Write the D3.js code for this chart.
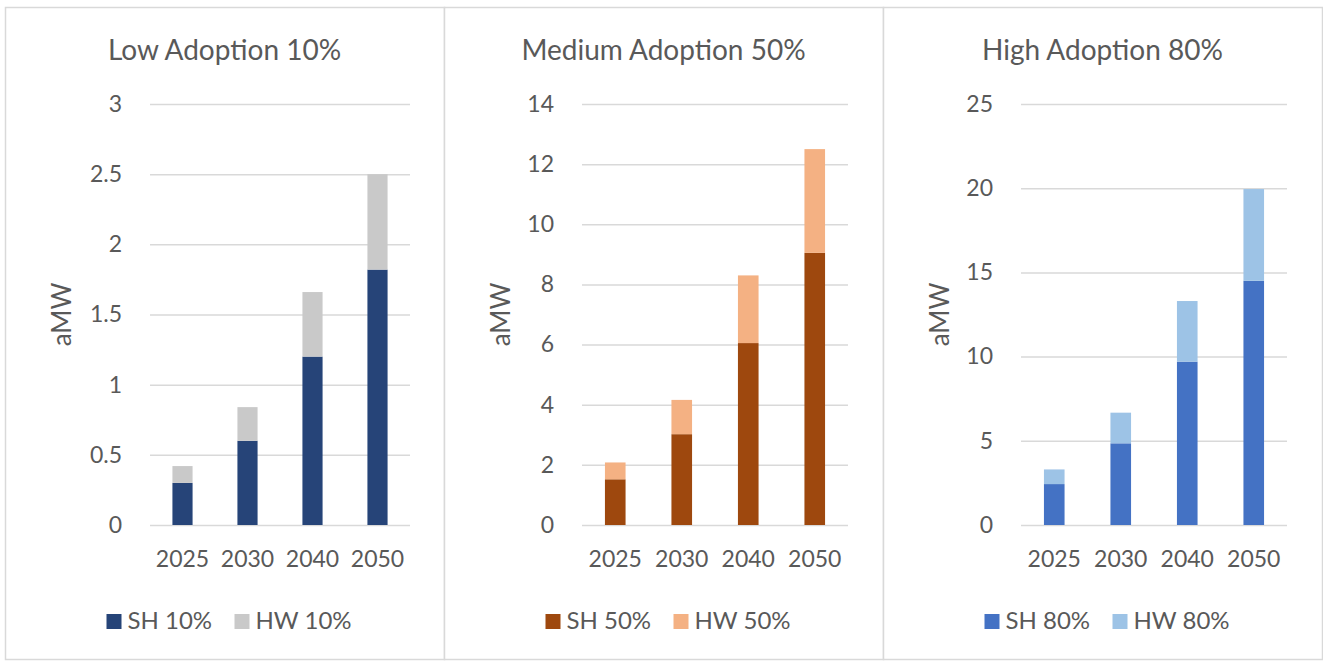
<!DOCTYPE html>
<html>
<head>
<meta charset="utf-8">
<script src="https://cdn.jsdelivr.net/npm/d3@7"></script>
<style>
  body { margin: 0; background: #fff; }
  svg text { font-family: Lato, "Open Sans", sans-serif; fill: #595959; }
</style>
</head>
<body>
<div id="chart"></div>
<script>
// categories and values
const years = ["2025", "2030", "2040", "2050"];

const titles = ["Low Adoption 10%", "Medium Adoption 50%", "High Adoption 80%"];
const shNames = ["SH 10%", "SH 50%", "SH 80%"];
const hwNames = ["HW 10%", "HW 50%", "HW 80%"];

const shLow = [0.3, 0.6, 1.2, 1.82];
const hwLow = [0.12, 0.24, 0.46, 0.68];
const shMed = [1.52, 3.02, 6.05, 9.05];
const hwMed = [0.56, 1.14, 2.25, 3.45];
const shHigh = [2.43, 4.85, 9.7, 14.5];
const hwHigh = [0.87, 1.82, 3.6, 5.45];

const ticksLow = [0, 0.5, 1, 1.5, 2, 2.5, 3];
const ticksMed = [0, 2, 4, 6, 8, 10, 12, 14];
const ticksHigh = [0, 5, 10, 15, 20, 25];

const shColors = ["#264478", "#9E480E", "#4472C4"];
const hwColors = ["#C9C9C9", "#F4B183", "#9DC3E6"];

const panels = [
  {sh: shLow, hw: hwLow, ticks: ticksLow},
  {sh: shMed, hw: hwMed, ticks: ticksMed},
  {sh: shHigh, hw: hwHigh, ticks: ticksHigh}
];

const W = 1323, H = 662;
const panelX = [5, 444, 883], panelW = 439;
const plotLeft = [150, 582, 1021], plotRight = [410, 848, 1287];
const plotTop = 104, plotBottom = 525;

const svg = d3.select("#chart").append("svg")
    .attr("width", W)
    .attr("height", H);

panels.forEach((p, i) => {
  const g = svg.append("g");
  const cx = panelX[i] + panelW / 2;

  // panel border
  g.append("rect")
      .attr("x", panelX[i] + 0.5)
      .attr("y", 7.5)
      .attr("width", panelW)
      .attr("height", 652)
      .attr("fill", "#fff")
      .attr("stroke", "#d9d9d9")
      .attr("stroke-width", 1.5);

  // title
  g.append("text")
      .attr("x", cx)
      .attr("y", 60)
      .attr("text-anchor", "middle")
      .style("font-size", "28px")
      .text(titles[i]);

  const x = d3.scaleBand()
      .domain(years)
      .range([plotLeft[i], plotRight[i]])
      .paddingInner(0.69)
      .paddingOuter(0.345);

  const y = d3.scaleLinear()
      .domain([0, d3.max(p.ticks)])
      .range([plotBottom, plotTop]);

  // gridlines + y labels
  const yAxis = g.append("g")
      .attr("transform", `translate(${plotLeft[i]},0)`)
      .call(d3.axisLeft(y)
        .tickValues(p.ticks)
        .tickSize(-(plotRight[i] - plotLeft[i]))
        .tickPadding(28)
        .tickFormat(d3.format("")));
  yAxis.select(".domain").remove();
  yAxis.selectAll(".tick line")
      .attr("stroke", "#d9d9d9")
      .attr("stroke-width", 1.5);
  yAxis.selectAll(".tick text")
      .style("font-size", "23px")
      .style("font-family", "Lato, sans-serif")
      .attr("fill", "#595959");

  // stacked bars
  const rows = years.map((yr, j) => ({year: yr, sh: p.sh[j], hw: p.hw[j]}));
  const stack = d3.stack().keys(["sh", "hw"])(rows);
  const colors = [shColors[i], hwColors[i]];

  g.selectAll(".layer")
    .data(stack)
    .join("g")
      .attr("fill", (d, k) => colors[k])
    .selectAll("rect")
    .data(d => d)
    .join("rect")
      .attr("x", d => x(d.data.year))
      .attr("y", d => y(d[1]))
      .attr("width", x.bandwidth())
      .attr("height", d => y(d[0]) - y(d[1]));

  // x labels
  const xAxis = g.append("g")
      .attr("transform", `translate(0,${plotBottom})`)
      .call(d3.axisBottom(x).tickSize(0).tickPadding(26));
  xAxis.select(".domain").remove();
  xAxis.selectAll(".tick text")
      .style("font-size", "23px")
      .style("font-family", "Lato, sans-serif")
      .attr("fill", "#595959");

  // y axis title
  g.append("text")
      .attr("transform", `translate(${panelX[i] + 66},${(plotTop + plotBottom) / 2}) rotate(-90)`)
      .attr("text-anchor", "middle")
      .style("font-size", "26px")
      .text("aMW");

  // legend
  const leg = g.append("g")
      .attr("transform", `translate(${cx},629)`);
  const items = [{name: shNames[i], color: shColors[i], dx: -118},
                 {name: hwNames[i], color: hwColors[i], dx: 10}];
  items.forEach(it => {
    leg.append("rect")
        .attr("x", it.dx)
        .attr("y", -15)
        .attr("width", 15)
        .attr("height", 15)
        .attr("fill", it.color);
    leg.append("text")
        .attr("x", it.dx + 21)
        .attr("y", 0)
        .style("font-size", "24px")
        .text(it.name);
  });
});
</script>
</body>
</html>
